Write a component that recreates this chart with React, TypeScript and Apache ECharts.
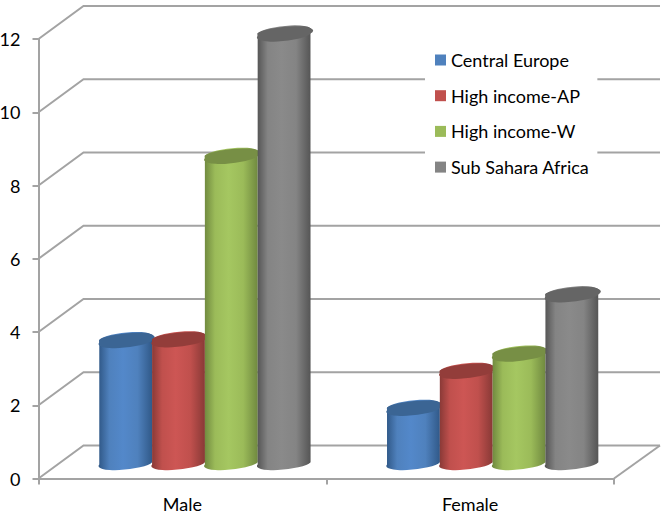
import React, { useEffect, useRef } from "react";
import * as echarts from "echarts";

const categories = ["Male", "Female"];
const seriesNames = ["Central Europe", "High income-AP", "High income-W", "Sub Sahara Africa"];
const centralEurope = [3.33, 1.48];
const highIncomeAP = [3.35, 2.49];
const highIncomeW = [8.36, 2.96];
const subSaharaAfrica = [11.7, 4.58];
const seriesValues = [centralEurope, highIncomeAP, highIncomeW, subSaharaAfrica];
const yTicks = [0, 2, 4, 6, 8, 10, 12];

const mainColors = ["#4f81bd", "#c0504d", "#9bbb59", "#848484"];
const lightColors = ["#5388ca", "#cd5654", "#a5c761", "#8a8a8a"];
const edgeColors = ["#2f5786", "#863835", "#6e873e", "#535353"];
const capColors = ["#3b6594", "#933d3a", "#778f45", "#656565"];
const GRID = "#a3a3a3";
const DEPTH_X = 45;
const DEPTH_Y = 33;
const FONT = "Lato, Carlito, Calibri, sans-serif";

function cylinderItem(i: number) {
  return (params: any, api: any) => {
    const cat = api.value(0);
    const val = api.value(1);
    const top = api.coord([cat, val]);
    const base = api.coord([cat, 0]);
    const band = api.size([1, 0])[0];
    const w = band * 0.1835;
    const ext = w / 2;
    const ry = 6.1;
    const deg = 5.5;
    const th = (deg * Math.PI) / 180;
    const s = Math.sin(th);
    const c = Math.cos(th);
    const rx = Math.sqrt((ext * ext - ry * ry * s * s) / (c * c));
    // tangent points where the rim meets the vertical sides
    const dy = ((rx * rx - ry * ry) * s * c) / ext;
    const cx = top[0] + DEPTH_X / 2 + (i - 1.5) * w;
    const yT = top[1] - DEPTH_Y / 2;
    const yB = base[1] - DEPTH_Y / 2;
    const l = cx - ext;
    const r = cx + ext;
    const arc = `A${rx} ${ry} ${-deg} 1 0`;
    const body =
      `M${l} ${yT + dy} L${l} ${yB + dy} ${arc} ${r} ${yB - dy} ` +
      `L${r} ${yT - dy} ${arc} ${l} ${yT + dy} Z`;
    const cap =
      `M${l} ${yT + dy} ${arc} ${r} ${yT - dy} ${arc} ${l} ${yT + dy} Z`;
    const fill = new echarts.graphic.LinearGradient(0, 0, 1, 0, [
      { offset: 0, color: edgeColors[i] },
      { offset: 0.2, color: mainColors[i] },
      { offset: 0.45, color: lightColors[i] },
      { offset: 0.72, color: mainColors[i] },
      { offset: 1, color: edgeColors[i] },
    ]);
    return {
      type: "group",
      children: [
        { type: "path", shape: { pathData: body }, style: { fill, stroke: "none" } },
        { type: "path", shape: { pathData: cap }, style: { fill: capColors[i], stroke: "none" } },
      ],
    };
  };
}

function wallItem(params: any, api: any) {
  const v = api.value(1);
  const pt = api.coord([0, v]);
  const cs = params.coordSys;
  const x0 = cs.x;
  const y = pt[1];
  const right = cs.x + cs.width;
  const children: any[] = [
    {
      type: "polyline",
      shape: { points: [[x0, y], [x0 + DEPTH_X, y - DEPTH_Y], [right + 46, y - DEPTH_Y]] },
      style: { stroke: GRID, lineWidth: 2, fill: "none" },
    },
  ];
  if (v === 0) {
    children.push({
      type: "line",
      shape: { x1: right, y1: y, x2: right + 46, y2: y - DEPTH_Y },
      style: { stroke: GRID, lineWidth: 2 },
    });
  }
  return { type: "group", children };
}

export default function App() {
  const ref = useRef<HTMLDivElement>(null);
  useEffect(() => {
    const chart = echarts.init(ref.current!, undefined, { renderer: "svg" });
    chart.setOption({
      animation: false,
      backgroundColor: "#fff",
      color: mainColors,
      textStyle: { fontFamily: FONT },
      grid: { left: 38.5, top: 39, width: 575.5, height: 439.5, outerBoundsMode: "none" },
      legend: {
        data: seriesNames,
        orient: "vertical",
        left: 425,
        top: 43,
        padding: [7, 8, 7, 10],
        backgroundColor: "#fff",
        icon: "rect",
        itemWidth: 11,
        itemHeight: 11,
        itemGap: 15.7,
        textStyle: { fontFamily: FONT, fontSize: 18, color: "#000", lineHeight: 20, padding: [0, 0, 0, 0] },
        z: 20,
      },
      xAxis: {
        type: "category",
        data: categories,
        axisLine: { lineStyle: { color: GRID, width: 2 } },
        axisTick: { show: true, length: 6, lineStyle: { color: GRID, width: 2 } },
        axisLabel: { color: "#000", fontSize: 18, fontFamily: FONT, margin: 16 },
        splitLine: { show: false },
      },
      yAxis: {
        type: "value",
        min: 0,
        max: 12,
        interval: 2,
        axisLine: { show: true, lineStyle: { color: GRID, width: 2 } },
        axisTick: { show: true, length: 6, lineStyle: { color: GRID, width: 2 } },
        axisLabel: { color: "#000", fontSize: 18, fontFamily: FONT, margin: 18 },
        splitLine: { show: false },
      },
      series: [
        {
          type: "custom",
          name: "wall",
          renderItem: wallItem,
          encode: { x: 0, y: 1 },
          data: yTicks.map((t) => [0, t]),
          silent: true,
          z: 1,
        },
        ...seriesNames.map((name, i) => ({
          type: "custom",
          name,
          renderItem: cylinderItem(i),
          encode: { x: 0, y: 1 },
          itemStyle: { color: mainColors[i] },
          data: seriesValues[i].map((v, c) => [c, v]),
          z: 2 + i,
        })),
      ],
    });
    return () => chart.dispose();
  }, []);
  return <div ref={ref} style={{ position: "absolute", left: 0, top: 0, width: 666, height: 516 }} />;
}
